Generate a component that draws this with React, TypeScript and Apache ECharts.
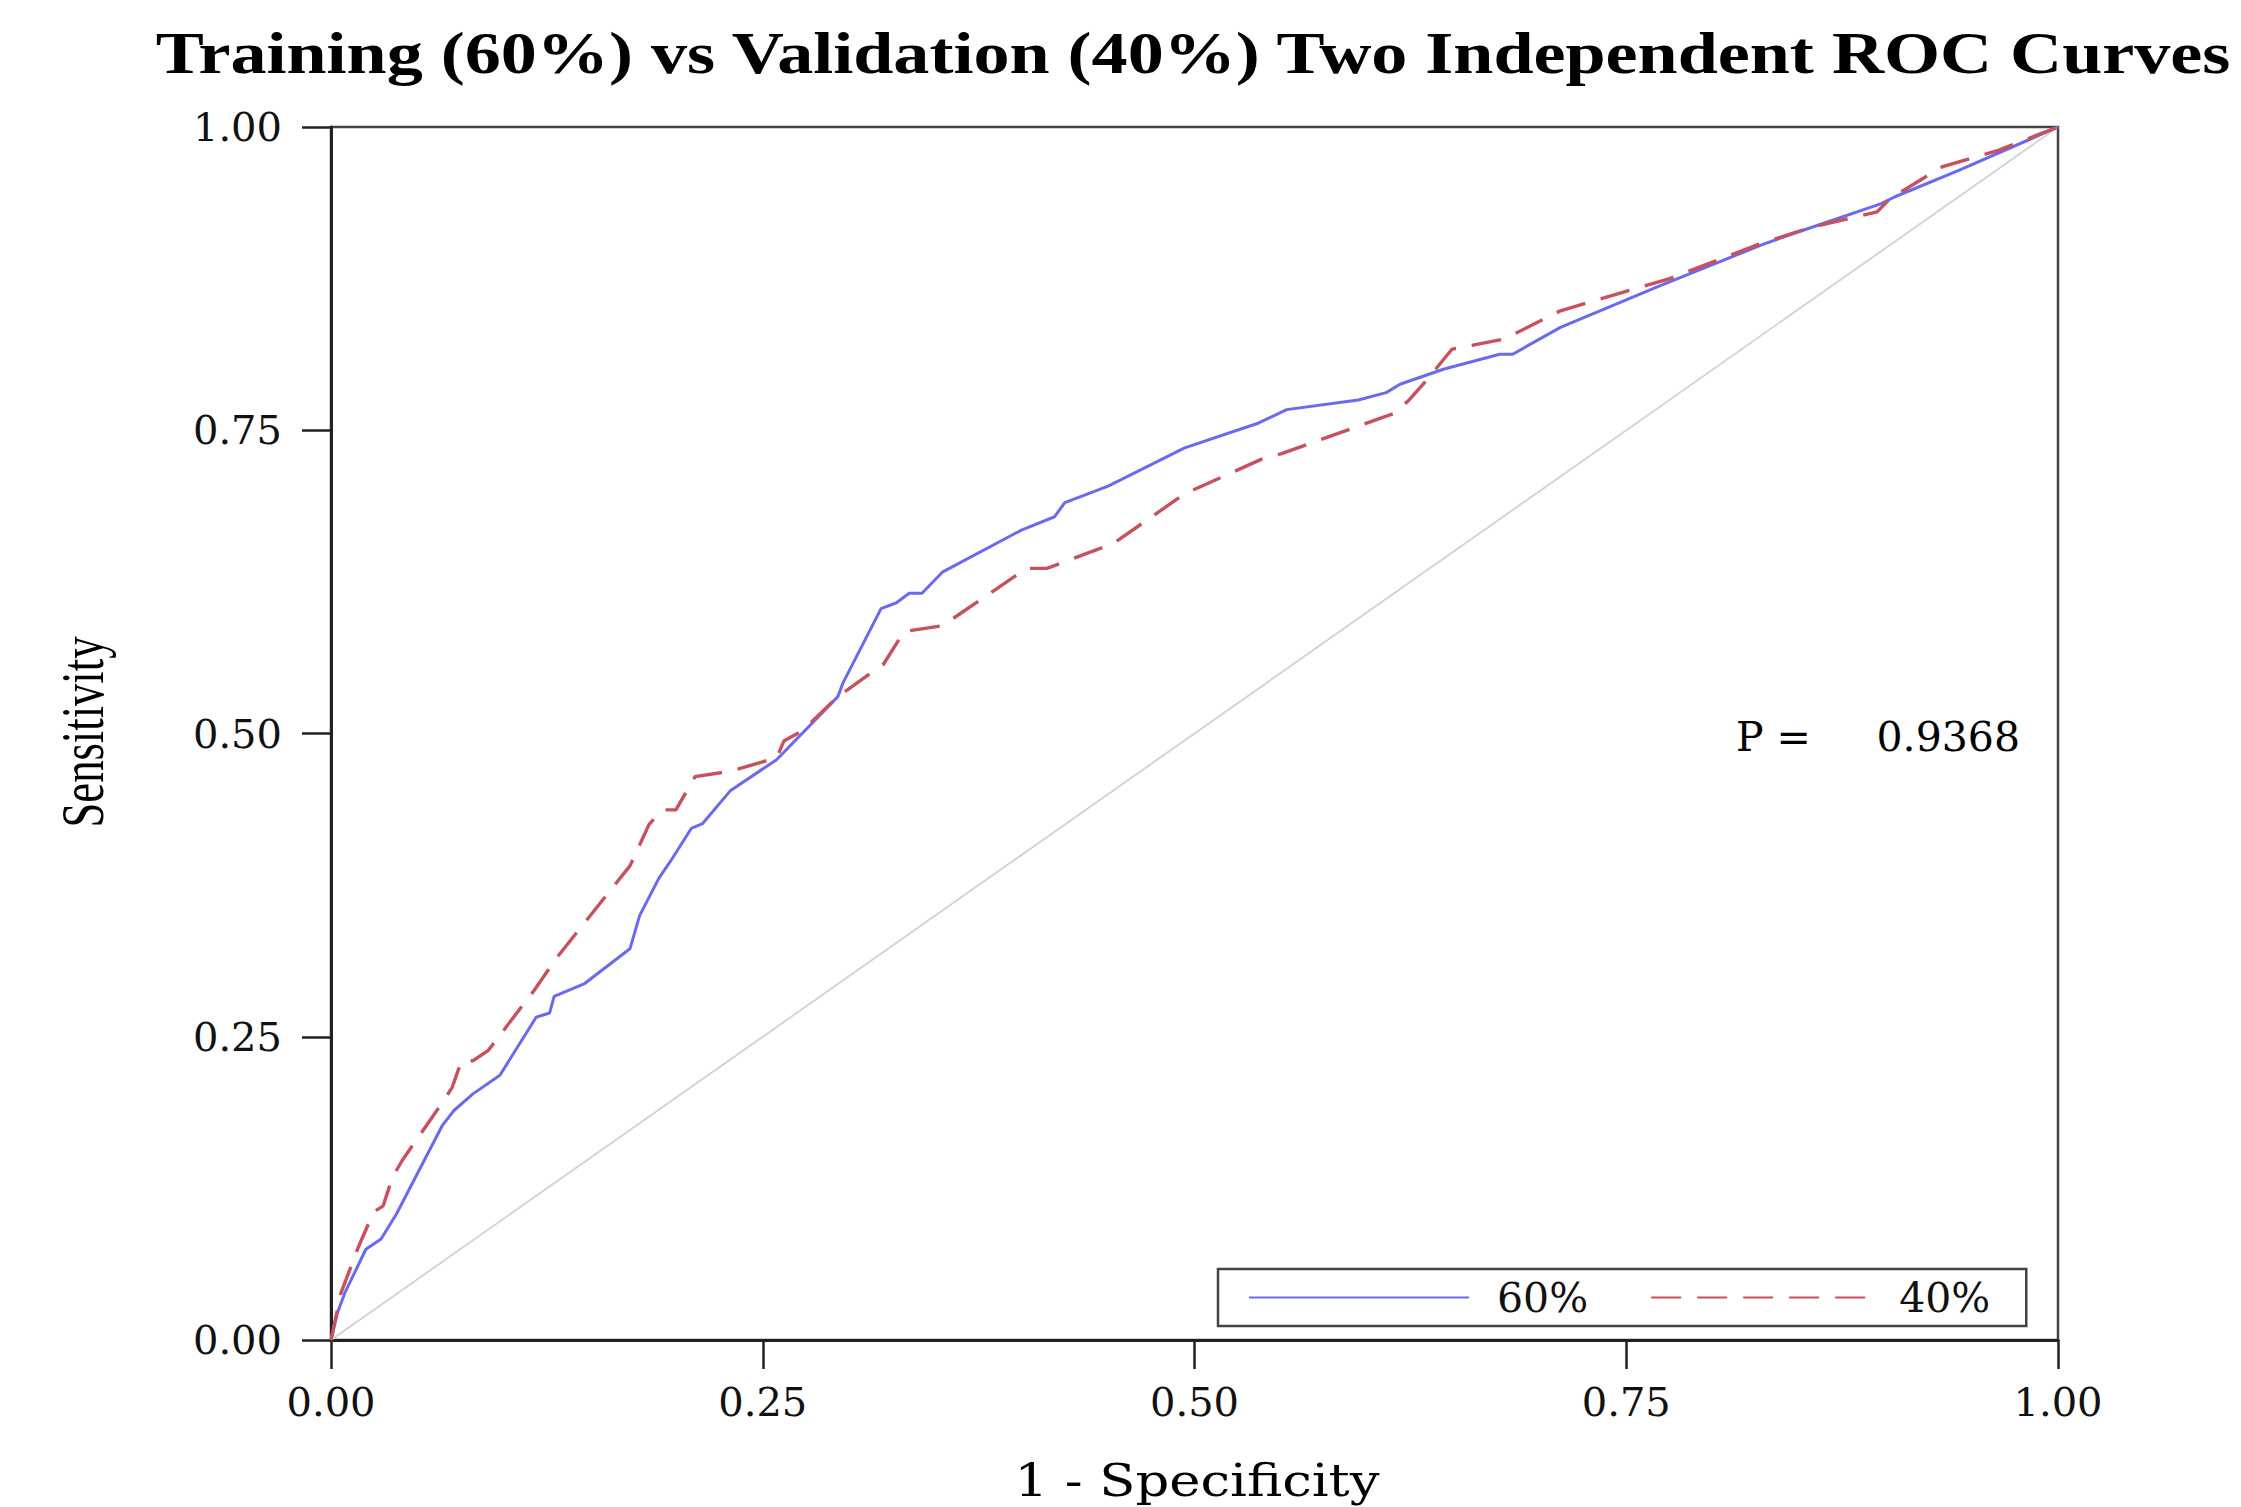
import React, { useEffect, useRef } from "react";
import * as echarts from "echarts";

const xTicks = [0, 0.25, 0.5, 0.75, 1];
const yTicks = [0, 0.25, 0.5, 0.75, 1];

const seriesNames = ["60%", "40%"];

const trainFpr = [0, 0.0036, 0.008, 0.0202, 0.029, 0.0379, 0.0646, 0.0712, 0.0822, 0.0978, 0.1188, 0.1266, 0.1292, 0.1465, 0.1731, 0.1787, 0.1898, 0.1964, 0.2086, 0.2152, 0.2314, 0.258, 0.2935, 0.2964, 0.3185, 0.3274, 0.3348, 0.3422, 0.354, 0.3998, 0.419, 0.4249, 0.45, 0.4943, 0.5372, 0.5534, 0.5948, 0.611, 0.619, 0.6441, 0.6767, 0.6842, 0.7119, 0.7697, 0.8299, 0.855, 0.8977, 0.9053, 0.9429, 1];
const trainTpr = [0, 0.0218, 0.0388, 0.0748, 0.0833, 0.1039, 0.1772, 0.1892, 0.2029, 0.2183, 0.2661, 0.2696, 0.2833, 0.2935, 0.3225, 0.3499, 0.3806, 0.3943, 0.4217, 0.4258, 0.4531, 0.4784, 0.5304, 0.5415, 0.603, 0.6078, 0.6156, 0.6156, 0.633, 0.6677, 0.6787, 0.6904, 0.704, 0.7355, 0.756, 0.767, 0.775, 0.781, 0.7879, 0.8003, 0.8127, 0.8127, 0.8348, 0.8692, 0.9037, 0.9161, 0.9368, 0.9423, 0.9644, 1];

const validFpr = [0, 0.0058, 0.0158, 0.0247, 0.0302, 0.0357, 0.0413, 0.0646, 0.0701, 0.0756, 0.0822, 0.0911, 0.1177, 0.131, 0.1731, 0.1842, 0.1919, 0.1997, 0.2108, 0.2314, 0.258, 0.2624, 0.2727, 0.2935, 0.32, 0.3318, 0.354, 0.4027, 0.4145, 0.453, 0.4943, 0.5386, 0.5504, 0.6155, 0.6243, 0.634, 0.6491, 0.6792, 0.7119, 0.7445, 0.7747, 0.8275, 0.8576, 0.8952, 0.9027, 0.9328, 0.9655, 1];
const validTpr = [0, 0.0388, 0.0765, 0.1055, 0.1106, 0.1345, 0.1482, 0.196, 0.2081, 0.2302, 0.2302, 0.2388, 0.2884, 0.3157, 0.3909, 0.4251, 0.437, 0.437, 0.4644, 0.4689, 0.48, 0.4941, 0.502, 0.5304, 0.5573, 0.5841, 0.5888, 0.6361, 0.6361, 0.6566, 0.6976, 0.726, 0.7307, 0.7639, 0.775, 0.7906, 0.8168, 0.8251, 0.8485, 0.8623, 0.8748, 0.9037, 0.9175, 0.93, 0.9409, 0.9671, 0.9808, 1];

const diagX = [0, 1];
const diagY = [0, 1];

const pLabel = "P =";
const pValue = "0.9368";
const titleText = "Training (60%) vs Validation (40%) Two Independent ROC Curves";
const xName = "1 - Specificity";
const yName = "Sensitivity";

const zip = (xs: number[], ys: number[]) => xs.map((x, i) => [x, ys[i]]);

export default function App() {
  const ref = useRef<HTMLDivElement>(null);
  useEffect(() => {
    if (!ref.current) return;
    const chart = echarts.init(ref.current, null, { renderer: "svg" });
    const gl = 331, gt = 127, gw = 1727, gh = 1213;
    const tickFont = { fontFamily: "DejaVu Serif", fontSize: 40, color: "#111" };
    chart.setOption({
      animation: false,
      backgroundColor: "#ffffff",
      grid: { left: gl, top: gt, width: gw, height: gh, show: true, borderColor: "#444", borderWidth: 2.5, backgroundColor: "transparent" },
      xAxis: {
        type: "value", min: xTicks[0], max: xTicks[xTicks.length - 1], interval: 0.25,
        axisLine: { show: true, lineStyle: { color: "#222", width: 3 } },
        axisTick: { show: true, inside: false, length: 29, lineStyle: { color: "#222", width: 2.5 } },
        axisLabel: { ...tickFont, margin: 42, formatter: (v: number) => v.toFixed(2) },
        splitLine: { show: false },
      },
      yAxis: {
        type: "value", min: yTicks[0], max: yTicks[yTicks.length - 1], interval: 0.25,
        axisLine: { show: true, lineStyle: { color: "#222", width: 3 } },
        axisTick: { show: true, inside: false, length: 29, lineStyle: { color: "#222", width: 2.5 } },
        axisLabel: { ...tickFont, margin: 49, formatter: (v: number) => v.toFixed(2) },
        splitLine: { show: false },
      },
      legend: {
        data: seriesNames,
        left: 1218, top: 1269,
        orient: "horizontal",
        itemWidth: 220, itemHeight: 14, itemGap: 62,
        padding: [8, 36, 8, 30],
        borderColor: "#444", borderWidth: 2.5,
        backgroundColor: "#fff",
        itemStyle: { opacity: 0 },
        textStyle: { fontFamily: "DejaVu Serif", fontSize: 41, color: "#111", padding: [0, 0, 0, 23], lineHeight: 40 },
      },
      series: [
        {
          name: "diag", type: "line", data: zip(diagX, diagY), symbol: "none", silent: true,
          lineStyle: { color: "#d2d2d2", width: 1.8 }, z: 1,
        },
        {
          name: seriesNames[0], type: "line", data: zip(trainFpr, trainTpr), symbol: "none",
          lineStyle: { color: "#6a6af0", width: 3 }, itemStyle: { color: "#6a6af0" }, z: 2,
        },
        {
          name: seriesNames[1], type: "line", data: zip(validFpr, validTpr), symbol: "none",
          lineStyle: { color: "#c9505c", width: 3.4, type: [30, 16] }, itemStyle: { color: "#c9505c" }, z: 3,
        },
      ],
      graphic: [
        {
          type: "text", x: 1193, y: 53, scaleX: 1.222,
          style: { text: titleText, fontFamily: "Liberation Serif", fontWeight: "bold", fontSize: 59, fill: "#000", align: "center", verticalAlign: "middle" },
        },
        {
          type: "text", x: 82, y: 732, rotation: Math.PI / 2, scaleX: 0.72,
          style: { text: yName, fontFamily: "Liberation Serif", fontSize: 62, fill: "#000", align: "center", verticalAlign: "middle" },
        },
        {
          type: "text", x: 1197, y: 1481, scaleX: 1.2,
          style: { text: xName, fontFamily: "DejaVu Serif", fontSize: 44, fill: "#000", align: "center", verticalAlign: "middle" },
        },
        {
          type: "text", x: 1736, y: 737,
          style: { text: pLabel, fontFamily: "DejaVu Serif", fontSize: 41, fill: "#000", align: "left", verticalAlign: "middle" },
        },
        {
          type: "text", x: 2020, y: 737,
          style: { text: pValue, fontFamily: "DejaVu Serif", fontSize: 41, fill: "#000", align: "right", verticalAlign: "middle" },
        },
      ],
    });
    return () => chart.dispose();
  }, []);
  return <div ref={ref} style={{ position: "absolute", left: 0, top: 0, width: 2241, height: 1507 }} />;
}
